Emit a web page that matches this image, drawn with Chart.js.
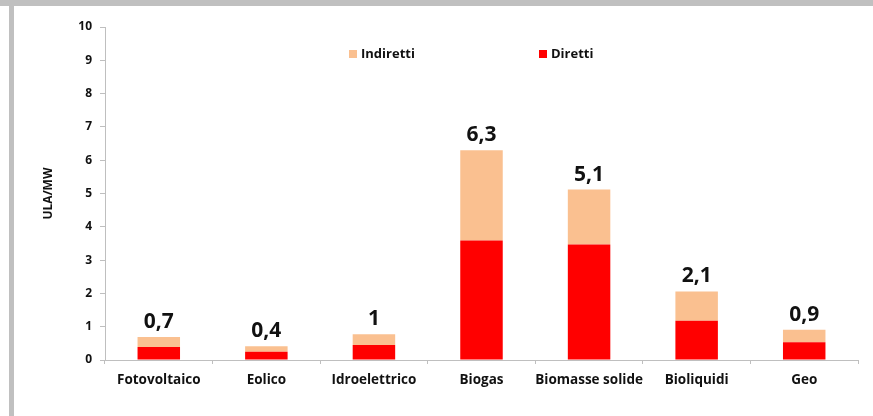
<!DOCTYPE html>
<html>
<head>
<meta charset="utf-8">
<script src="https://cdn.jsdelivr.net/npm/chart.js@4"></script>
<style>
  html, body { margin: 0; padding: 0; background: #fff; }
  #wrap { position: relative; width: 873px; height: 416px; overflow: hidden; }
  #topband { position: absolute; left: 0; top: 0; width: 873px; height: 6px; background: #c0c0c0; }
  #leftband { position: absolute; left: 9px; top: 0; width: 5px; height: 416px; background: #c0c0c0; }
  canvas { position: absolute; left: 0; top: 0; }
</style>
</head>
<body>
<div id="wrap">
  <canvas id="c" width="873" height="416"></canvas>
  <div id="topband"></div>
  <div id="leftband"></div>
</div>
<script>
const categories = ['Fotovoltaico', 'Eolico', 'Idroelettrico', 'Biogas', 'Biomasse solide', 'Bioliquidi', 'Geo'];
const diretti = [0.39, 0.25, 0.45, 3.59, 3.47, 1.18, 0.53];
const indiretti = [0.30, 0.16, 0.32, 2.71, 1.65, 0.88, 0.38];
const totalLabels = ['0,7', '0,4', '1', '6,3', '5,1', '2,1', '0,9'];
const yTicks = [0, 1, 2, 3, 4, 5, 6, 7, 8, 9, 10];

const COL_DIR = '#ff0000';
const COL_IND = '#fac090';
const AXIS = '#bfbfbf';
const TXT = '#111111';
const FONT = "'Open Sans', sans-serif";

const overlayPlugin = {
  id: 'overlay',
  afterDatasetsDraw(chart) {
    const ctx = chart.ctx;
    const area = chart.chartArea;
    const topMeta = chart.getDatasetMeta(1);
    ctx.save();
    ctx.fillStyle = TXT;
    ctx.font = "bold 21px " + FONT;
    ctx.textAlign = 'center';
    ctx.textBaseline = 'alphabetic';
    topMeta.data.forEach((bar, i) => {
      ctx.fillText(totalLabels[i], bar.x, bar.y - 9);
    });
    const items = [
      { label: chart.data.datasets[1].label, color: chart.data.datasets[1].backgroundColor, dx: 244 },
      { label: chart.data.datasets[0].label, color: chart.data.datasets[0].backgroundColor, dx: 434 }
    ];
    ctx.font = "bold 13px " + FONT;
    ctx.textAlign = 'left';
    ctx.textBaseline = 'middle';
    const ly = area.top + 27;
    items.forEach(it => {
      const x = area.left + it.dx;
      ctx.fillStyle = it.color;
      ctx.fillRect(x, ly - 4, 8, 8);
      ctx.fillStyle = TXT;
      ctx.fillText(it.label, x + 12, ly);
    });
    ctx.restore();
  }
};

new Chart(document.getElementById('c'), {
  type: 'bar',
  data: {
    labels: categories,
    datasets: [
      { label: 'Diretti', data: diretti, backgroundColor: COL_DIR, stack: 's' },
      { label: 'Indiretti', data: indiretti, backgroundColor: COL_IND, stack: 's' }
    ]
  },
  options: {
    responsive: false,
    animation: false,
    devicePixelRatio: 1,
    categoryPercentage: 1,
    barPercentage: 0.395,
    layout: { padding: { top: 27, right: 15, bottom: 0, left: 0 } },
    plugins: {
      legend: { display: false },
      tooltip: { enabled: false }
    },
    scales: {
      x: {
        stacked: true,
        offset: true,
        grid: { display: true, drawOnChartArea: false, offset: true, tickLength: 4, color: AXIS, lineWidth: 1 },
        border: { color: AXIS, width: 1 },
        ticks: { color: TXT, font: { family: FONT, weight: 'bold', size: 13.5 }, padding: 8, maxRotation: 0, autoSkip: false },
        afterFit(scale) { scale.height = 56; }
      },
      y: {
        stacked: true,
        min: 0,
        max: 10,
        afterBuildTicks(scale) { scale.ticks = yTicks.map(v => ({ value: v })); },
        grid: { display: true, drawOnChartArea: false, tickLength: 5, color: AXIS, lineWidth: 1 },
        border: { color: AXIS, width: 1 },
        ticks: { color: TXT, font: { family: FONT, weight: 'bold', size: 12 }, padding: 8 },
        title: { display: true, text: 'ULA/MW', color: TXT, font: { family: FONT, weight: 'bold', size: 12 }, padding: { top: 41, bottom: 0 } },
        afterFit(scale) { scale.width = 105; }
      }
    }
  },
  plugins: [overlayPlugin]
});
</script>
</body>
</html>
